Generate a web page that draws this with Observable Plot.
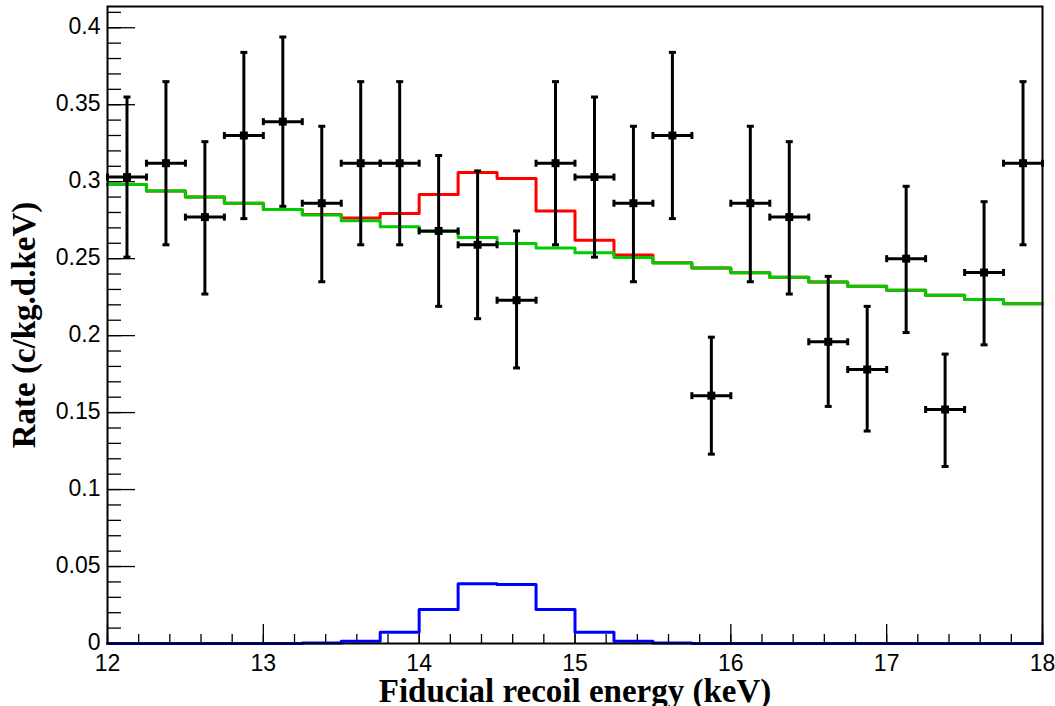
<!DOCTYPE html>
<html>
<head>
<meta charset="utf-8">
<script src="https://cdn.jsdelivr.net/npm/d3@7"></script>
<script src="https://cdn.jsdelivr.net/npm/@observablehq/plot@0.6"></script>
<style>
  html, body { margin: 0; padding: 0; background: #fff; }
</style>
</head>
<body>
<div id="chart"></div>
<script>
// Bin centres (keV), bin half width
const energy = [12.125, 12.375, 12.625, 12.875, 13.125, 13.375, 13.625, 13.875,
                14.125, 14.375, 14.625, 14.875, 15.125, 15.375, 15.625, 15.875,
                16.125, 16.375, 16.625, 16.875, 17.125, 17.375, 17.625, 17.875];
const halfWidth = 0.125;

// Data points
const rate    = [0.303, 0.312, 0.277, 0.330, 0.339, 0.286, 0.312, 0.312,
                 0.268, 0.259, 0.223, 0.312, 0.303, 0.286, 0.330, 0.161,
                 0.286, 0.277, 0.196, 0.178, 0.250, 0.152, 0.241, 0.312];
const errUp   = [0.052, 0.053, 0.049, 0.054, 0.055, 0.050, 0.053, 0.053,
                 0.049, 0.048, 0.045, 0.053, 0.052, 0.050, 0.054, 0.038,
                 0.050, 0.049, 0.0425, 0.041, 0.047, 0.036, 0.046, 0.053];
const errDown = [0.052, 0.053, 0.050, 0.054, 0.055, 0.051, 0.053, 0.053,
                 0.049, 0.048, 0.044, 0.053, 0.052, 0.051, 0.054, 0.038,
                 0.051, 0.050, 0.042, 0.040, 0.048, 0.037, 0.047, 0.053];

// Histograms
const background = [0.2982, 0.2940, 0.2900, 0.2860, 0.2820, 0.2783, 0.2746, 0.2707,
                    0.2677, 0.2638, 0.2599, 0.2569, 0.2539, 0.2508, 0.2471, 0.2439,
                    0.2409, 0.2380, 0.2348, 0.2320, 0.2294, 0.2263, 0.2235, 0.2207];
const total      = [0.2982, 0.2940, 0.2900, 0.2860, 0.2820, 0.2787, 0.2764, 0.2793,
                    0.2917, 0.3060, 0.3020, 0.2809, 0.2619, 0.2523, 0.2474, 0.2439,
                    0.2409, 0.2380, 0.2348, 0.2320, 0.2294, 0.2263, 0.2235, 0.2207];
const peak       = [0, 0, 0, 0, 0, 0.0004, 0.0015, 0.0073,
                    0.0221, 0.0388, 0.0383, 0.0221, 0.0073, 0.0015, 0.0003, 0,
                    0, 0, 0, 0, 0, 0, 0, 0];

// Axis ticks
const xTicks = [12, 13, 14, 15, 16, 17, 18];
const xMinor = d3.range(12, 18.0001, 0.2).map(v => +v.toFixed(1));
const yTicks = [0, 0.05, 0.1, 0.15, 0.2, 0.25, 0.3, 0.35, 0.4];
const yMinor = d3.range(0, 0.4101, 0.01).map(v => +v.toFixed(2));

const xTitle = "Fiducial recoil energy (keV)";
const yTitle = "Rate (c/kg.d.keV)";

const W = 1055, H = 706;
const mL = 107, mR = 13, mT = 6, mB = 63;
const pw = W - mL - mR, ph = H - mT - mB;

function steps(values) {
  const pts = energy.map((e, i) => ({x: e - halfWidth, y: values[i]}));
  pts.push({x: energy[energy.length - 1] + halfWidth, y: values[values.length - 1]});
  return pts;
}

const points = energy.map((e, i) => ({
  x: e, y: rate[i], lo: rate[i] - errDown[i], hi: rate[i] + errUp[i],
  x1: e - halfWidth, x2: e + halfWidth
}));

const hCap = { draw(ctx) { ctx.moveTo(-3.5, 0); ctx.lineTo(3.5, 0); } };
const vCap = { draw(ctx) { ctx.moveTo(0, -3.5); ctx.lineTo(0, 3.5); } };

const chart = Plot.plot({
  width: W, height: H,
  marginLeft: mL, marginRight: mR, marginTop: mT, marginBottom: mB,
  style: {fontFamily: "Liberation Sans, Arial, sans-serif", fontSize: "23px", color: "#000", background: "#fff"},
  x: {domain: [12, 18]},
  y: {domain: [0, 0.4138]},
  marks: [
    // minor & major ticks (inside frame)
    Plot.tickY(yMinor, {y: d => d, stroke: "#000", strokeWidth: 1.3, insetRight: pw - 14}),
    Plot.tickY(yTicks, {y: d => d, stroke: "#000", strokeWidth: 1.3, insetRight: pw - 28}),
    Plot.tickX(xMinor, {x: d => d, stroke: "#000", strokeWidth: 1.3, insetTop: ph - 9}),
    Plot.tickX(xTicks, {x: d => d, stroke: "#000", strokeWidth: 1.3, insetTop: ph - 19}),
    Plot.axisY(yTicks, {tickSize: 0, tickPadding: 7, label: null, tickFormat: d => String(d), fontSize: 23, dy: -1}),
    Plot.axisX(xTicks, {tickSize: 0, tickPadding: 11, label: null, tickFormat: d => String(d), fontSize: 23}),
    // histograms
    Plot.line(steps(total), {x: "x", y: "y", curve: "step-after", stroke: "#ff0000", strokeWidth: 3}),
    Plot.line(steps(background), {x: "x", y: "y", curve: "step-after", stroke: "#00cc00", strokeWidth: 3}),
    Plot.line(steps(peak), {x: "x", y: "y", curve: "step-after", stroke: "#0000ff", strokeWidth: 3}),
    // data with error bars
    Plot.ruleX(points, {x: "x", y1: "lo", y2: "hi", stroke: "#000", strokeWidth: 3}),
    Plot.ruleY(points, {y: "y", x1: "x1", x2: "x2", stroke: "#000", strokeWidth: 3}),
    Plot.dot(points, {x: "x", y: "lo", symbol: hCap, r: 3, stroke: "#000", strokeWidth: 3}),
    Plot.dot(points, {x: "x", y: "hi", symbol: hCap, r: 3, stroke: "#000", strokeWidth: 3}),
    Plot.dot(points, {x: "x1", y: "y", symbol: vCap, r: 3, stroke: "#000", strokeWidth: 3}),
    Plot.dot(points, {x: "x2", y: "y", symbol: vCap, r: 3, stroke: "#000", strokeWidth: 3}),
    Plot.dot(points, {x: "x", y: "y", symbol: "square", r: 4.5, fill: "#000", stroke: "none"}),
    Plot.frame({stroke: "#000", strokeWidth: 2}),
    // titles
    Plot.text([xTitle], {frameAnchor: "bottom", dy: 48, text: d => d, textAnchor: "middle", fontFamily: "Liberation Serif, Times New Roman, serif", fontWeight: "bold", fontSize: 33, lineAnchor: "middle", fill: "#000"}),
    Plot.text([yTitle], {frameAnchor: "left", dx: -83, rotate: -90, text: d => d, textAnchor: "middle", fontFamily: "Liberation Serif, Times New Roman, serif", fontWeight: "bold", fontSize: 33, lineAnchor: "middle", fill: "#000"})
  ]
});
document.getElementById("chart").appendChild(chart);
</script>
</body>
</html>
